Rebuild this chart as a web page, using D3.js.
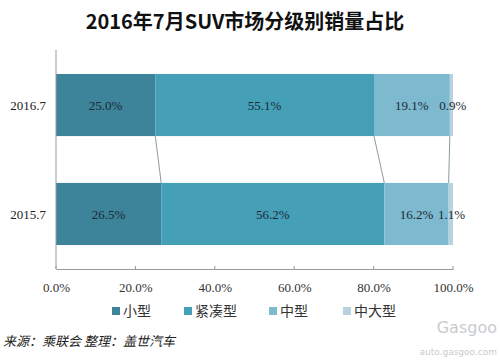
<!DOCTYPE html>
<html><head><meta charset="utf-8">
<script src="https://cdn.jsdelivr.net/npm/d3@7"></script>
<style>body{margin:0;background:#fff}</style>
</head><body>
<script>
const categories = ["2016.7", "2015.7"];
const seriesNames = ["小型", "紧凑型", "中型", "中大型"];
const values2016 = [25.0, 55.1, 19.1, 0.9];
const values2015 = [26.5, 56.2, 16.2, 1.1];
const colors = ["#3d8399", "#459fb7", "#7db9cf", "#b6d3df"];
const tickValues = [0, 20, 40, 60, 80, 100];

const rows = [values2016, values2015];
const W = 500, H = 360;
const svg = d3.select("body").append("svg").attr("width", W).attr("height", H);

svg.append("text").attr("x", 245).attr("y", 29).attr("text-anchor", "middle")
  .style("font-family", "'Noto Sans CJK SC', sans-serif").style("font-weight", "bold")
  .style("font-size", "20px").attr("fill", "#111").text("2016年7月SUV市场分级别销量占比");

const x = d3.scaleLinear().domain([0, 100]).range([56, 453]);
const y = d3.scaleBand().domain(categories).range([50, 269]).paddingInner(0.43).paddingOuter(0.22);

const stacks = rows.map(r => { let c = 0; return r.map(v => { const s = c; c += v; return [s, c, v]; }); });

// connectors
for (let k = 0; k < 3; k++) {
  svg.append("line")
    .attr("x1", x(stacks[0][k][1])).attr("y1", y(categories[0]) + y.bandwidth())
    .attr("x2", x(stacks[1][k][1])).attr("y2", y(categories[1]))
    .attr("stroke", "#8a9aa4").attr("stroke-width", 1);
}

stacks.forEach((st, i) => {
  st.forEach((seg, j) => {
    svg.append("rect").attr("x", x(seg[0])).attr("y", y(categories[i]))
      .attr("width", Math.min(x(seg[1]), x(100)) - x(seg[0])).attr("height", y.bandwidth())
      .attr("fill", colors[j]);
    let lx = (x(seg[0]) + Math.min(x(seg[1]), x(100))) / 2;
    if (j === 3) lx = x(seg[0]) + 3;
    svg.append("text").attr("x", lx).attr("y", y(categories[i]) + y.bandwidth() / 2 + 5)
      .attr("text-anchor", "middle").style("font-family", "'Liberation Serif', serif")
      .style("font-size", "13px").attr("fill", "#1a2a35").text(seg[2].toFixed(1) + "%");
  });
  svg.append("text").attr("x", 46).attr("y", y(categories[i]) + y.bandwidth() / 2 + 5)
    .attr("text-anchor", "end").style("font-family", "'Liberation Serif', serif")
    .style("font-size", "13px").attr("fill", "#222").text(categories[i]);
});

// axes
svg.append("line").attr("x1", 56).attr("x2", 56).attr("y1", 50).attr("y2", 269).attr("stroke", "#999");
const xa = svg.append("g").attr("transform", "translate(0,269)")
  .call(d3.axisBottom(x).tickValues(tickValues).tickSize(0).tickPadding(14).tickFormat(d => d.toFixed(1) + "%"));
xa.select(".domain").attr("stroke", "#999");
xa.selectAll("text").style("font-family", "'Liberation Serif', serif").style("font-size", "13px").attr("fill", "#333");
tickValues.forEach(t => svg.append("line").attr("x1", x(t)).attr("x2", x(t)).attr("y1", 266).attr("y2", 269).attr("stroke", "#999"));

// legend
const legX = [112, 184, 269, 343];
seriesNames.forEach((n, i) => {
  svg.append("rect").attr("x", legX[i]).attr("y", 307).attr("width", 8).attr("height", 8).attr("fill", colors[i]);
  svg.append("text").attr("x", legX[i] + 11).attr("y", 316)
    .style("font-family", "'Noto Sans CJK SC', sans-serif").style("font-size", "14px").attr("fill", "#333").text(n);
});

svg.append("text").attr("x", 3).attr("y", 346)
  .style("font-family", "'Noto Sans CJK SC', sans-serif").style("font-style", "italic")
  .style("font-size", "13px").attr("fill", "#222").text("来源：乘联会  整理：盖世汽车");

svg.append("text").attr("x", 497).attr("y", 333).attr("text-anchor", "end")
  .style("font-family", "'DejaVu Sans', sans-serif").style("font-size", "16px").attr("fill", "#c8ccd0").text("Gasgoo");
svg.append("text").attr("x", 497).attr("y", 355).attr("text-anchor", "end")
  .style("font-family", "'DejaVu Sans', sans-serif").style("font-size", "9px").attr("fill", "#c8ccd0").text("auto.gasgoo.com");
</script>
</body></html>
